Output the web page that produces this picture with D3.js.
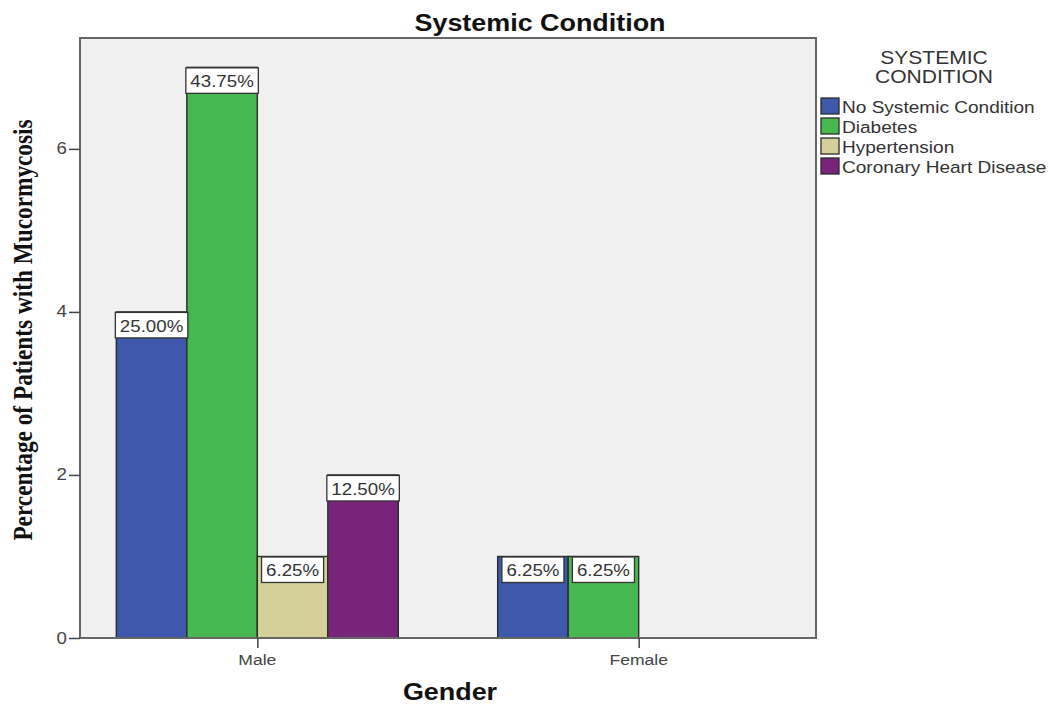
<!DOCTYPE html>
<html>
<head>
<meta charset="utf-8">
<script src="https://cdn.jsdelivr.net/npm/d3@7"></script>
<style>
  html, body { margin: 0; padding: 0; background: #ffffff; }
  svg { display: block; font-family: "Liberation Sans", Arial, sans-serif; }
</style>
</head>
<body>
<svg id="chart" width="1053" height="706"></svg>
<script>
// Grouped bars: patients with mucormycosis by gender and systemic condition
const genders = ["Male", "Female"];
const conditions = ["No Systemic Condition", "Diabetes", "Hypertension", "Coronary Heart Disease"];
const malePercent = [25.00, 43.75, 6.25, 12.50];
const femalePercent = [6.25, 6.25, 0, 0];
const totalPatients = 16;
const yTicks = [0, 2, 4, 6];
const colors = ["#3e58ab", "#46b84f", "#d5cf9a", "#78247a"];

const percentByGender = { Male: malePercent, Female: femalePercent };

const svg = d3.select("#chart");
const SX = 1.17; // horizontal text widening used throughout the figure

const plot = { left: 80, right: 816, top: 38, bottom: 638 };

const x0 = d3.scalePoint().domain(genders).range([plot.left, plot.right]).padding(0.465);
const groupWidth = 282;
const x1 = d3.scaleBand().domain(conditions).range([-groupWidth / 2, groupWidth / 2]).padding(0);
const y = d3.scaleLinear().domain([0, 7.36]).range([plot.bottom, plot.top]);

// helper: text widened horizontally around its anchor
function stretchedText(parent, x, y, str, opts = {}) {
  const g = parent.append("g").attr("transform", `translate(${x},${y}) scale(${SX},1)` + (opts.rotate ? ` rotate(${opts.rotate})` : ""));
  const t = g.append("text")
    .attr("text-anchor", opts.anchor || "start")
    .attr("font-size", opts.size || 16)
    .attr("font-weight", opts.weight || "normal")
    .attr("fill", opts.fill || "#333")
    .text(str);
  if (opts.family) t.style("font-family", opts.family);
  return t;
}

// plot background
svg.append("rect")
  .attr("x", plot.left).attr("y", plot.top)
  .attr("width", plot.right - plot.left).attr("height", plot.bottom - plot.top)
  .attr("fill", "#f0f0f0");

// bars
const rows = [];
genders.forEach(g => {
  percentByGender[g].forEach((p, i) => {
    if (p > 0) rows.push({ gender: g, condition: conditions[i], pct: p, count: p / 100 * totalPatients, color: colors[i] });
  });
});

const bars = svg.append("g");
bars.selectAll("rect").data(rows).join("rect")
  .attr("x", d => x0(d.gender) + x1(d.condition))
  .attr("y", d => y(d.count))
  .attr("width", x1.bandwidth())
  .attr("height", d => y(0) - y(d.count))
  .attr("fill", d => d.color)
  .attr("stroke", "#2b2b2b")
  .attr("stroke-width", 1.4);

// value labels in white boxes at the top of each bar
const labels = svg.append("g");
rows.forEach(d => {
  const cx = x0(d.gender) + x1(d.condition) + x1.bandwidth() / 2;
  const top = y(d.count);
  const g = labels.append("g");
  const box = g.append("rect");
  const t = stretchedText(g, cx, top + 20, d.pct.toFixed(2) + "%", { anchor: "middle", size: 16, fill: "#333" });
  const w = t.node().getComputedTextLength() * SX + 9;
  box.attr("x", cx - w / 2).attr("y", top + 0.5).attr("width", w).attr("height", 25.5)
    .attr("fill", "#ffffff").attr("stroke", "#333").attr("stroke-width", 1.3);
});

// plot frame
svg.append("rect")
  .attr("x", plot.left).attr("y", plot.top)
  .attr("width", plot.right - plot.left).attr("height", plot.bottom - plot.top)
  .attr("fill", "none").attr("stroke", "#666").attr("stroke-width", 2);

// y axis
const yAxis = svg.append("g").attr("transform", `translate(${plot.left},0)`)
  .call(d3.axisLeft(y).tickValues(yTicks).tickSize(11).tickPadding(3).tickFormat(d3.format("d")));
yAxis.select(".domain").remove();
yAxis.selectAll(".tick line").attr("stroke", "#444").attr("stroke-width", 1.5);
yAxis.selectAll(".tick text").remove();
yTicks.forEach(v => stretchedText(svg, plot.left - 13, y(v) + 5.5, String(v), { anchor: "end", size: 16, fill: "#444" }));

// x axis
const xAxis = svg.append("g").attr("transform", `translate(0,${plot.bottom})`)
  .call(d3.axisBottom(x0).tickSize(10).tickFormat(""));
xAxis.select(".domain").remove();
xAxis.selectAll(".tick line").attr("stroke", "#444").attr("stroke-width", 1.5);
genders.forEach(g => stretchedText(svg, x0(g), 665, g, { anchor: "middle", size: 15, fill: "#444" }));

// titles
stretchedText(svg, 540, 31, "Systemic Condition", { anchor: "middle", size: 23, weight: "bold", fill: "#111" });
stretchedText(svg, 450, 700, "Gender", { anchor: "middle", size: 23, weight: "bold", fill: "#111" });
stretchedText(svg, 31.5, 330, "Percentage of Patients with Mucormycosis",
  { anchor: "middle", size: 23.3, weight: "bold", fill: "#111", rotate: -90, family: "'Liberation Serif', 'Times New Roman', serif" });

// legend
const legend = svg.append("g");
stretchedText(legend, 934, 64, "SYSTEMIC", { anchor: "middle", size: 18, fill: "#333" });
stretchedText(legend, 934, 83, "CONDITION", { anchor: "middle", size: 18, fill: "#333" });
conditions.forEach((c, i) => {
  const yy = 98 + i * 20;
  legend.append("rect").attr("x", 821).attr("y", yy).attr("width", 18).attr("height", 16)
    .attr("fill", colors[i]).attr("stroke", "#2b2b2b").attr("stroke-width", 1.3);
  stretchedText(legend, 842, yy + 15, c, { size: 16.3, fill: "#333" });
});
</script>
</body>
</html>
